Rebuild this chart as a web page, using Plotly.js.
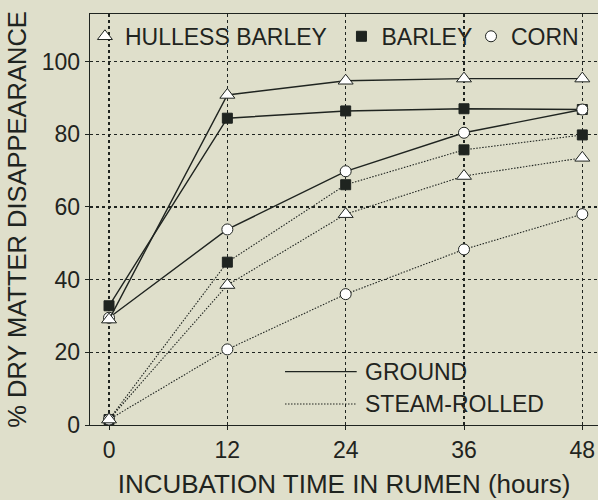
<!DOCTYPE html>
<html><head><meta charset="utf-8">
<script src="https://cdn.plot.ly/plotly-3.0.1.min.js"></script>
<style>html,body{margin:0;padding:0;background:#dfdfcb}</style>
</head><body><div id="chart" style="width:598px;height:500px"></div>
<script>
const hours = [0, 12, 24, 36, 48];
const groundHulless = [29.0, 90.8, 94.7, 95.3, 95.3];
const groundBarley = [32.8, 84.4, 86.4, 87.0, 86.8];
const groundCorn = [29.5, 53.8, 69.8, 80.4, 86.8];
const steamHulless = [1.5, 38.5, 58.0, 68.5, 73.5];
const steamBarley = [1.5, 44.8, 66.1, 75.7, 79.8];
const steamCorn = [1.5, 20.8, 36.0, 48.3, 58.0];
const grainNames = ['HULLESS BARLEY', 'BARLEY', 'CORN'];
const processNames = ['GROUND', 'STEAM-ROLLED'];
const xTicks = [0, 12, 24, 36, 48];
const yTicks = [0, 20, 40, 60, 80, 100];

const ink = '#1f2420';
const bg = '#dfdfcb';
const font = 'Liberation Sans, Arial, Helvetica, sans-serif';
const fineDot = '1.5px,1.5px';

const markerStyles = {
  hulless: {symbol: 'triangle-up', size: 13, color: '#ffffff', line: {color: ink, width: 1}},
  barley: {symbol: 'square', size: 10, color: ink, line: {color: ink, width: 1}},
  corn: {symbol: 'circle', size: 11, color: '#ffffff', line: {color: ink, width: 1}}
};

function series(y, kind, dash, width) {
  return {x: hours, y: y, mode: 'lines+markers', showlegend: false,
    line: {color: ink, width: width, dash: dash}, marker: markerStyles[kind], hoverinfo: 'skip'};
}

const traces = [
  series(steamBarley, 'barley', fineDot, 1.1),
  series(steamCorn, 'corn', fineDot, 1.1),
  series(steamHulless, 'hulless', fineDot, 1.1),
  series(groundBarley, 'barley', 'solid', 1.4),
  series(groundCorn, 'corn', 'solid', 1.4),
  series(groundHulless, 'hulless', 'solid', 1.4),
  {x: [null], y: [null], mode: 'markers', name: grainNames[0], marker: markerStyles.hulless, legend: 'legend'},
  {x: [null], y: [null], mode: 'markers', name: grainNames[1], marker: markerStyles.barley, legend: 'legend2'},
  {x: [null], y: [null], mode: 'markers', name: grainNames[2], marker: markerStyles.corn, legend: 'legend3'}
];

function legendAt(x) {
  return {x: x, y: 0.998, xanchor: 'left', yanchor: 'top', bgcolor: 'rgba(0,0,0,0)',
    borderwidth: 0, font: {family: font, size: 23, color: ink}};
}

const layout = {
  width: 598, height: 500,
  paper_bgcolor: bg, plot_bgcolor: bg,
  margin: {l: 90, r: 0, t: 14, b: 75},
  font: {family: font, color: ink},
  xaxis: {
    range: [-1.93, 49.59], tickvals: xTicks, ticktext: xTicks.map(String),
    showgrid: true, gridcolor: ink, gridwidth: 1.2, griddash: '3px,3px',
    zeroline: false, showline: true, linecolor: ink, linewidth: 1.4, mirror: true,
    ticks: 'outside', ticklen: 4, tickcolor: ink,
    tickfont: {family: font, size: 23, color: ink},
    title: {text: 'INCUBATION TIME IN RUMEN (hours)', font: {family: font, size: 26, color: ink}, standoff: 12},
    automargin: false, fixedrange: true
  },
  yaxis: {
    range: [0, 113.07], tickvals: yTicks, ticktext: yTicks.map(String),
    showgrid: true, gridcolor: ink, gridwidth: 1.2, griddash: '3px,3px',
    zeroline: false, showline: true, linecolor: ink, linewidth: 1.4, mirror: false,
    ticks: 'outside', ticklen: 4, tickcolor: ink,
    tickfont: {family: font, size: 23, color: ink},
    title: {text: '% DRY MATTER DISAPPEARANCE', font: {family: font, size: 25.5, color: ink}, standoff: 7},
    automargin: false, fixedrange: true
  },
  legend: legendAt(-0.01),
  legend2: legendAt(0.495),
  legend3: legendAt(0.75),
  shapes: [
    {type: 'line', xref: 'paper', yref: 'paper', x0: 0.3839, x1: 0.525, y0: 0.1297, y1: 0.1297, line: {color: ink, width: 1.3}},
    {type: 'line', xref: 'paper', yref: 'paper', x0: 0.3839, x1: 0.525, y0: 0.0511, y1: 0.0511, line: {color: ink, width: 1.1, dash: fineDot}}
  ],
  annotations: [
    {xref: 'paper', yref: 'paper', x: 0.538, y: 0.1297, xanchor: 'left', yanchor: 'middle', showarrow: false, text: processNames[0], font: {family: font, size: 23, color: ink}},
    {xref: 'paper', yref: 'paper', x: 0.538, y: 0.0511, xanchor: 'left', yanchor: 'middle', showarrow: false, text: processNames[1], font: {family: font, size: 23, color: ink}}
  ]
};

Plotly.newPlot('chart', traces, layout, {displayModeBar: false, staticPlot: true});
</script>
</body></html>
